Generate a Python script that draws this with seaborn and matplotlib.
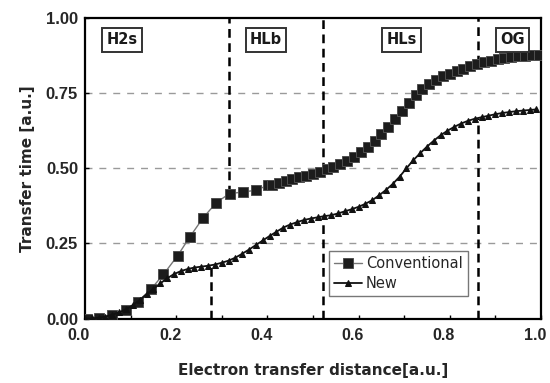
import numpy as np
import pandas as pd
import matplotlib
matplotlib.use("Agg")
import matplotlib.pyplot as plt
from matplotlib.transforms import ScaledTranslation
import seaborn as sns

# values
conv_x = [0.005, 0.031, 0.060, 0.089, 0.116, 0.144, 0.172, 0.203, 0.230, 0.259,
          0.288, 0.317, 0.346, 0.374, 0.401,
          0.410, 0.425, 0.440, 0.455, 0.470, 0.485, 0.500, 0.515, 0.530, 0.545,
          0.560, 0.575, 0.590, 0.605, 0.620, 0.635, 0.650, 0.665, 0.680, 0.695,
          0.710, 0.725, 0.740, 0.755, 0.770, 0.785, 0.800, 0.815, 0.830, 0.845,
          0.860, 0.875, 0.890, 0.905, 0.920, 0.935, 0.950, 0.965, 0.980, 0.995]
conv_y = [0.000, 0.002, 0.012, 0.029, 0.057, 0.097, 0.147, 0.209, 0.272, 0.335,
          0.386, 0.416, 0.421, 0.427, 0.443,
          0.446, 0.452, 0.458, 0.464, 0.470, 0.476, 0.482, 0.489, 0.497, 0.505,
          0.514, 0.524, 0.537, 0.553, 0.570, 0.590, 0.613, 0.639, 0.665, 0.691,
          0.718, 0.743, 0.763, 0.780, 0.794, 0.806, 0.815, 0.824, 0.832, 0.839,
          0.846, 0.852, 0.858, 0.862, 0.866, 0.869, 0.872, 0.874, 0.876, 0.877]

new_x = [0.000, 0.015, 0.030, 0.045, 0.060, 0.075, 0.090, 0.105, 0.120, 0.135,
         0.150, 0.165, 0.180, 0.195, 0.210, 0.225, 0.240, 0.255, 0.270, 0.285,
         0.300, 0.315, 0.330, 0.345, 0.360, 0.375, 0.390, 0.405, 0.420, 0.435,
         0.450, 0.465, 0.480, 0.495, 0.510, 0.525, 0.540, 0.555, 0.570, 0.585,
         0.600, 0.615, 0.630, 0.645, 0.660, 0.675, 0.690, 0.705, 0.720, 0.735,
         0.750, 0.765, 0.780, 0.795, 0.810, 0.825, 0.840, 0.855, 0.870, 0.885,
         0.900, 0.915, 0.930, 0.945, 0.960, 0.975, 0.990]
new_y = [0.000, 0.001, 0.003, 0.007, 0.013, 0.021, 0.031, 0.045, 0.062, 0.081,
         0.099, 0.117, 0.134, 0.148, 0.158, 0.165, 0.170, 0.173, 0.176, 0.180,
         0.186, 0.193, 0.203, 0.216, 0.230, 0.245, 0.260, 0.275, 0.289, 0.303,
         0.313, 0.321, 0.328, 0.333, 0.337, 0.341, 0.344, 0.350, 0.357, 0.364,
         0.372, 0.382, 0.394, 0.410, 0.428, 0.448, 0.472, 0.500, 0.527, 0.550,
         0.572, 0.592, 0.610, 0.625, 0.638, 0.649, 0.658, 0.665, 0.670, 0.675,
         0.680, 0.684, 0.687, 0.690, 0.692, 0.694, 0.696]

region_names = ["H2s", "HLb", "HLs", "OG"]
region_pos = [0.082, 0.397, 0.694, 0.9375]
bound_upper = [0.316, 0.522, 0.862]   # dashed lines from top down to Conventional
bound_lower = [0.276, 0.522, 0.862]   # dashed lines from New down to axis

y_ticks = [0.00, 0.25, 0.50, 0.75, 1.00]
x_ticks = [0.0, 0.2, 0.4, 0.6, 0.8, 1.0]

sns.set_theme(style="white")
plt.rcParams['font.family'] = ['DejaVu Sans']

fig = plt.figure(figsize=(5.5, 3.83), dpi=100)
ax = fig.add_axes([0.1545, 0.168, 0.829, 0.785])

df_conv = pd.DataFrame({"x": conv_x, "y": conv_y})
df_new = pd.DataFrame({"x": new_x, "y": new_y})

# grid lines first so curves sit on top
for yv in y_ticks[1:-1]:
    ax.axhline(yv, color="#9a9a9a", lw=1.0, ls=(0, (5, 5)), zorder=0)

sns.lineplot(data=df_conv, x="x", y="y", ax=ax, color="#777777", lw=1.0,
             marker="s", markersize=6.5, markerfacecolor="#1c1c1c",
             markeredgecolor="#505050", markeredgewidth=0.7,
             label="Conventional", zorder=3)
sns.lineplot(data=df_new, x="x", y="y", ax=ax, color="#111111", lw=1.3,
             marker="^", markersize=3.8, markerfacecolor="#111111",
             markeredgecolor="#111111", label="New", zorder=4)

# region boundaries
up_ends = np.interp(bound_upper, conv_x, conv_y)
lo_ends = np.interp(bound_lower, new_x, new_y)
ax.vlines(bound_upper, up_ends, 1.0, colors="black", linewidth=1.8,
          linestyles=(0, (3.5, 2.2)), zorder=2)
ax.vlines(bound_lower, 0.0, lo_ends, colors="black", linewidth=1.8,
          linestyles=(0, (3.5, 2.2)), zorder=2)

for name, xp in zip(region_names, region_pos):
    ax.text(xp, 0.927, name, ha="center", va="center", fontsize=10.5,
            fontweight="bold", color="#1a1a1a",
            bbox=dict(boxstyle="square,pad=0.3", fc="white", ec="#333333", lw=1.4))

ax.set_xlim(0, 1.0)
ax.set_ylim(0, 1.0)
ax.set_xticks(x_ticks)
ax.set_yticks(y_ticks)
ax.set_xticks(np.arange(0.1, 1.0, 0.2), minor=True)
ax.set_xticklabels([f"{v:.1f}" for v in x_ticks], fontfamily="Liberation Sans",
                   fontweight="bold", fontsize=11.5)
ax.set_yticklabels([f"{v:.2f}" for v in y_ticks], fontfamily="Liberation Sans",
                   fontweight="bold", fontsize=12)
ax.tick_params(axis="both", which="both", direction="in", length=3, width=1,
               color="black", bottom=True, left=True)
ax.tick_params(axis="x", pad=7)
ax.tick_params(axis="y", pad=5)

# the x labels in the original sit a little left of their ticks
shift = ScaledTranslation(-0.06, 0, fig.dpi_scale_trans)
for lbl in ax.get_xticklabels():
    lbl.set_transform(lbl.get_transform() + shift)

for sp in ax.spines.values():
    sp.set_color("black")
    sp.set_linewidth(1.6)

ax.set_xlabel("Electron transfer distance[a.u.]", fontsize=11, fontweight="bold",
              labelpad=14)
ax.set_ylabel("Transfer time [a.u.]", fontsize=11, fontweight="bold", labelpad=8)

leg = ax.legend(loc="lower left", bbox_to_anchor=(0.535, 0.075), frameon=True,
                fancybox=False, edgecolor="#555555", fontsize=10.5,
                handlelength=1.9, handletextpad=0.3, borderpad=0.35,
                labelspacing=0.35, borderaxespad=0)
leg.get_frame().set_linewidth(1.0)

fig.savefig("out.png", dpi=100, facecolor="white")
